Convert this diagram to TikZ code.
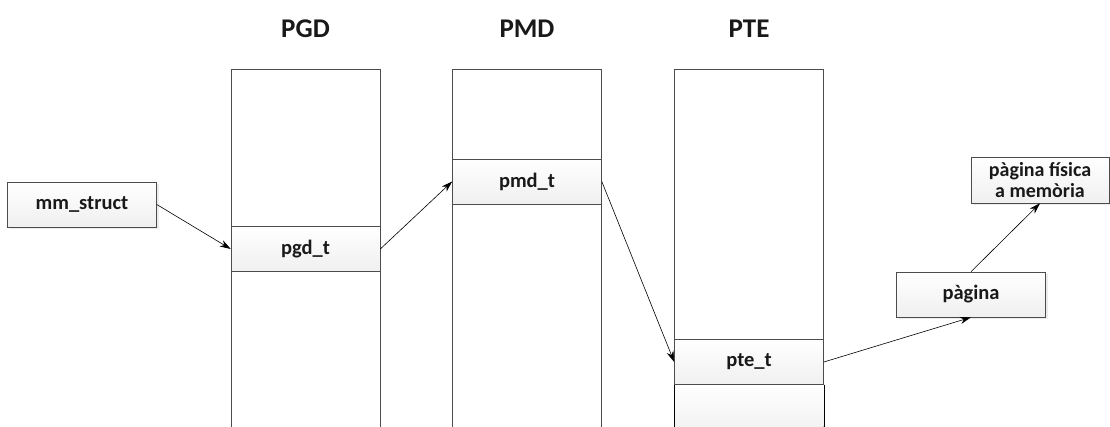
\documentclass[tikz,border=0pt]{standalone}
\usepackage{fontspec}
\setmainfont{Carlito}
\usepackage{tikz}
\usetikzlibrary{positioning,arrows.meta,shadows}

\begin{document}
\begin{tikzpicture}[%
    x=1pt,
    y=-1pt,
    ->,
    >={Stealth[length=11pt,width=7pt]},
    line width=0.6pt,
    column/.style={%
      draw=black!70,
      minimum width=149pt,
      minimum height=380pt,
      inner sep=0pt,
      anchor=north
    },
    entry/.style={%
      draw=black!70,
      top color=white,
      bottom color=gray!12,
      minimum width=149pt,
      minimum height=45pt,
      inner sep=0pt,
      text=black!90,
      font=\bfseries\fontsize{20.5}{22}\selectfont
    },
    item/.style={%
      entry,
      drop shadow={opacity=0.15,shadow xshift=2pt,shadow yshift=-2pt},
      align=center
    },
    tablename/.style={%
      text=black!90,
      font=\bfseries\fontsize{27}{30}\selectfont
    }
  ]
    \useasboundingbox (0,0) rectangle (1110,426);

    % the three tables
    \node[column] (pgd) at (305.5,69) {};
    \node[column] (pmd) at (527,69)   {};
    \node[column] (pte) at (749,69)   {};

    \node[tablename] (pgdname) at (305.5,29) {PGD};
    \node[tablename] (pmdname) at (527,29)   {PMD};
    \node[tablename] (ptename) at (749,29)   {PTE};

    \node[entry] (pgdt) at (305.5,249) {pgd\_t};
    \node[entry] (pmdt) at (527,181.5) {pmd\_t};
    \node[entry, anchor=north, draw=none, minimum height=50pt] (pterest) at (749,384.5) {};
    \node[entry] (ptet) at (749,362)   {pte\_t};
    \draw[-] (pterest.north west) -- (pterest.south west)
             (pterest.north east) -- (pterest.south east);

    % outside boxes
    \node[item] (mm)     at (82,204.5)  {mm\_struct};
    \node[item] (pagina) at (971,294.5) {pàgina};
    \node[item, minimum width=138pt, minimum height=46pt, font=\bfseries\fontsize{20}{21}\selectfont] (fisica) at (1040,180) {pàgina física\\a memòria};

    \path (mm.east)     edge (pgdt.west)
          (pgdt.east)   edge (pmdt.west)
          (pmdt.east)   edge (ptet.west)
          (ptet.east)   edge (pagina.south)
          (pagina.north) edge (fisica.south);
  \end{tikzpicture}
\end{document}
